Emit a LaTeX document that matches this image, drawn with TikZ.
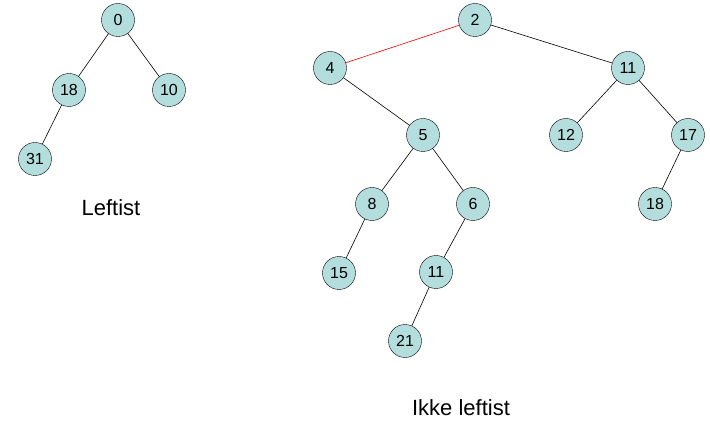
\documentclass[tikz,border=0pt]{standalone}
\usepackage{fontspec}
\setmainfont{Liberation Sans}
\definecolor{nodefill}{RGB}{180,222,222}
\begin{document}
\begin{tikzpicture}[x=1pt,y=-1pt,
  tn/.style={circle,draw=black,fill=nodefill,minimum size=33pt,inner sep=0pt,font=\fontsize{16}{16}\selectfont},
  lbl/.style={font=\fontsize{22}{22}\selectfont},
  edge/.style={draw=black,line width=0.6pt},
  redge/.style={draw=red,line width=0.6pt}]
\useasboundingbox (0,0) rectangle (710,422);
% left tree
\node[tn] (a0) at (118,20) {0};
\node[tn] (a18) at (69,90) {18};
\node[tn] (a10) at (169,90) {10};
\node[tn] (a31) at (35,159) {31};
\node[lbl] (l1) at (111,208) {Leftist};
\draw[edge] (a0) -- (a18);
\draw[edge] (a0) -- (a10);
\draw[edge] (a18) -- (a31);
% right tree
\node[tn] (b2) at (475,20) {2};
\node[tn] (b4) at (330,68) {4};
\node[tn] (b11) at (628,68) {11};
\node[tn] (b5) at (423,135) {5};
\node[tn] (b12) at (566,135) {12};
\node[tn] (b17) at (688,135) {17};
\node[tn] (b8) at (372,204) {8};
\node[tn] (b6) at (473,204) {6};
\node[tn] (b18) at (655,204) {18};
\node[tn] (b15) at (339,273) {15};
\node[tn] (b11b) at (436,272) {11};
\node[tn] (b21) at (405,341) {21};
\node[lbl] (l2) at (461,408) {Ikke leftist};
\draw[redge] (b2) -- (b4);
\draw[edge] (b2) -- (b11);
\draw[edge] (b4) -- (b5);
\draw[edge] (b11) -- (b12);
\draw[edge] (b11) -- (b17);
\draw[edge] (b5) -- (b8);
\draw[edge] (b5) -- (b6);
\draw[edge] (b17) -- (b18);
\draw[edge] (b8) -- (b15);
\draw[edge] (b6) -- (b11b);
\draw[edge] (b11b) -- (b21);
\end{tikzpicture}
\end{document}
